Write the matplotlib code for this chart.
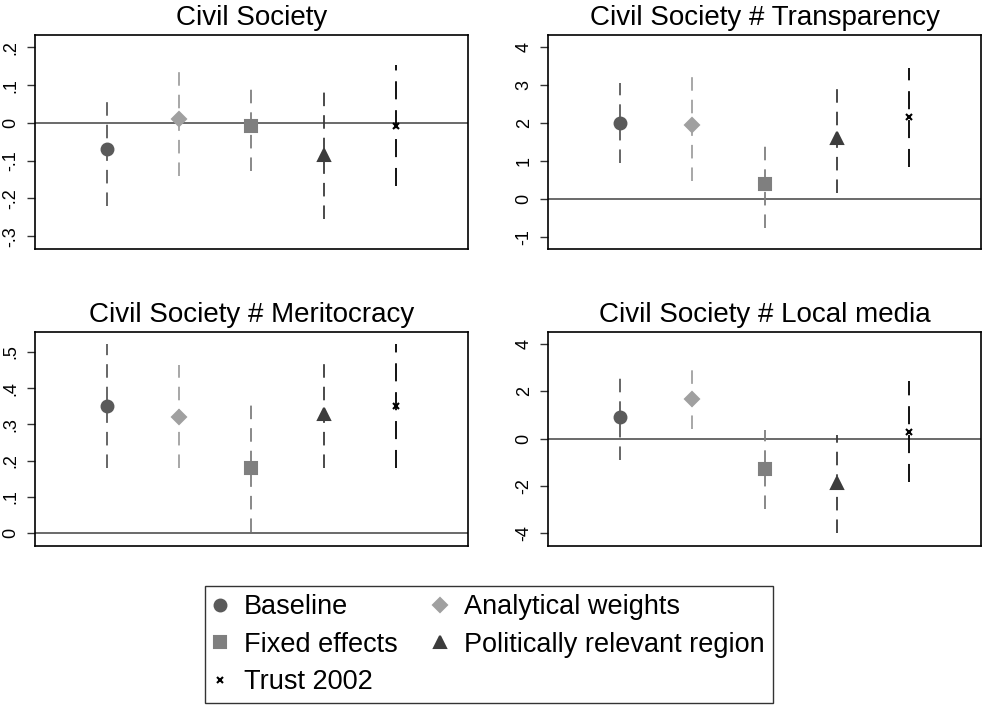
import numpy as np
from matplotlib import pyplot as plt
from matplotlib.lines import Line2D

plt.rcParams['font.family'] = ['Liberation Sans', 'DejaVu Sans']

# specifications (one marker per estimate in each panel)
specs = ['Baseline', 'Analytical weights', 'Fixed effects',
         'Politically relevant region', 'Trust 2002']
markers = ['o', 'D', 's', '^', 'x']
colors = ['#5a5a5a', '#a0a0a0', '#7f7f7f', '#3c3c3c', '#000000']
msizes = [8.5, 7.5, 8.5, 9, 5]

titles = ['Civil Society', 'Civil Society # Transparency',
          'Civil Society # Meritocracy', 'Civil Society # Local media']

# point estimates and confidence bounds per panel
coef_cs = [-0.069, 0.010, -0.009, -0.084, -0.007]
lo_cs = [-0.219, -0.141, -0.128, -0.254, -0.168]
hi_cs = [0.066, 0.143, 0.095, 0.081, 0.154]

coef_tr = [2.00, 1.96, 0.40, 1.60, 2.15]
lo_tr = [0.94, 0.48, -0.76, 0.15, 0.84]
hi_tr = [3.06, 3.34, 1.47, 2.99, 3.46]

coef_me = [0.351, 0.319, 0.179, 0.328, 0.350]
lo_me = [0.179, 0.179, 0.004, 0.180, 0.179]
hi_me = [0.523, 0.463, 0.353, 0.472, 0.523]

coef_lm = [0.92, 1.69, -1.27, -1.88, 0.28]
lo_lm = [-0.92, 0.42, -2.97, -4.00, -1.84]
hi_lm = [2.68, 2.99, 0.38, 0.14, 2.44]

ticks_cs = [-0.3, -0.2, -0.1, 0, 0.1, 0.2]
ticklabels_cs = ['-.3', '-.2', '-.1', '0', '.1', '.2']
ticks_tr = [-1, 0, 1, 2, 3, 4]
ticklabels_tr = ['-1', '0', '1', '2', '3', '4']
ticks_me = [0, 0.1, 0.2, 0.3, 0.4, 0.5]
ticklabels_me = ['0', '.1', '.2', '.3', '.4', '.5']
ticks_lm = [-4, -2, 0, 2, 4]
ticklabels_lm = ['-4', '-2', '0', '2', '4']

panels = [
    (coef_cs, lo_cs, hi_cs, ticks_cs, ticklabels_cs, (-0.334, 0.233)),
    (coef_tr, lo_tr, hi_tr, ticks_tr, ticklabels_tr, (-1.32, 4.325)),
    (coef_me, lo_me, hi_me, ticks_me, ticklabels_me, (-0.036, 0.555)),
    (coef_lm, lo_lm, hi_lm, ticks_lm, ticklabels_lm, (-4.55, 4.52)),
]

W, H = 982, 708
boxes = [(35, 35, 468, 249), (548, 35, 981, 249),
         (35, 332, 468, 546), (548, 332, 981, 546)]

fig = plt.figure(figsize=(W / 100, H / 100), dpi=100)
x = np.arange(1, 6)

for (coef, lo, hi, ticks, tlabels, ylim), title, (x0, y0, x1, y1) in zip(panels, titles, boxes):
    ax = fig.add_axes([x0 / W, 1 - y1 / H, (x1 - x0) / W, (y1 - y0) / H])
    ax.axhline(0, color='#505050', lw=1.2, zorder=1)
    for i in range(5):
        dash = (0, (10, 6)) if i == 4 else (0, (7.5, 5))
        ax.vlines(x[i], lo[i], hi[i], colors=colors[i], lw=1.3,
                  linestyles=[dash], zorder=2)
        ax.plot(x[i], coef[i], marker=markers[i], color=colors[i],
                ms=msizes[i], mew=1.5, ls='none', zorder=3)
    ax.set_xlim(0, 6)
    ax.set_ylim(*ylim)
    ax.set_xticks([])
    ax.set_yticks(ticks)
    ax.set_yticklabels(tlabels, rotation=90, va='center', fontsize=13)
    ax.tick_params(axis='y', length=6, width=1, pad=5, color='#333333')
    for s in ax.spines.values():
        s.set_linewidth(1.2)
    ax.set_title(title, fontsize=20, pad=7)

handles = [Line2D([], [], marker=m, color=c, ms=ms, mew=1.5, ls='none')
           for m, c, ms in zip(markers, colors, msizes)]
order = [0, 2, 4, 1, 3]
leg = fig.legend([handles[i] for i in order], [specs[i] for i in order],
                 ncol=2, loc='center', bbox_to_anchor=(0.4978, 0.0895),
                 fontsize=19.5, frameon=True, fancybox=False,
                 edgecolor='black', handlelength=0.55, handletextpad=0.6,
                 columnspacing=1.3, labelspacing=0.42, borderpad=0.3)
leg.get_frame().set_linewidth(1.0)

fig.savefig('out.png', dpi=100, facecolor='white')
